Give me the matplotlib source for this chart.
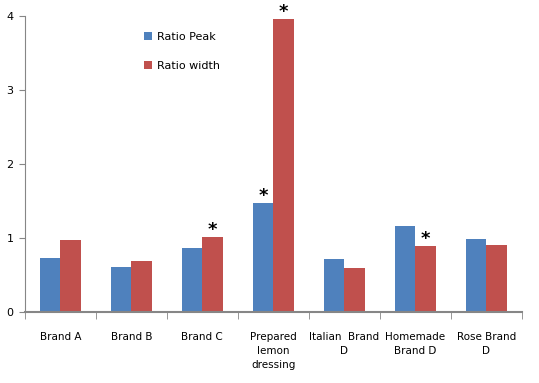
import numpy as np
import matplotlib.pyplot as plt

categories = ["Brand A", "Brand B", "Brand C", "Prepared\nlemon\ndressing",
              "Italian  Brand\nD", "Homemade\nBrand D", "Rose Brand\nD"]
ratio_peak = [0.73, 0.61, 0.86, 1.47, 0.72, 1.16, 0.99]
ratio_width = [0.97, 0.69, 1.01, 3.96, 0.59, 0.89, 0.91]
star_peak = [False, False, False, True, False, False, False]
star_width = [False, False, True, True, False, True, False]

fig = plt.figure(figsize=(5.39, 3.83), dpi=100)
ax = fig.add_axes([0.046, 0.185, 0.922, 0.773])

x = np.arange(len(categories))
w = 0.29
ax.bar(x - w / 2, ratio_peak, w, color="#4F81BD", label="Ratio Peak")
ax.bar(x + w / 2, ratio_width, w, color="#C0504D", label="Ratio width")

# asterisks mark significant differences
for xi, v, s in zip(x - w / 2, ratio_peak, star_peak):
    if s:
        ax.text(xi, v + 0.1, "*", ha="center", va="center", fontsize=13, fontweight="bold")
for xi, v, s in zip(x + w / 2, ratio_width, star_width):
    if s:
        ax.text(xi, v + 0.1, "*", ha="center", va="center", fontsize=13, fontweight="bold")

ax.set_xlim(-0.5, len(categories) - 0.5)
ax.set_ylim(0, 4)
ax.set_yticks([0, 1, 2, 3, 4])
ax.set_xticks(x)
ax.set_xticklabels(categories, fontsize=7.5, linespacing=1.5)
ax.set_xticks(np.arange(len(categories) + 1) - 0.5, minor=True)
ax.tick_params(axis="x", which="major", length=0, pad=14)
ax.tick_params(axis="x", which="minor", length=5, color="#868686")
ax.tick_params(axis="y", length=4, color="#868686", labelsize=8, pad=4)

for sp in ["top", "right"]:
    ax.spines[sp].set_visible(False)
for sp in ["left", "bottom"]:
    ax.spines[sp].set_color("#868686")
ax.spines["bottom"].set_linewidth(1.5)

ax.legend(loc="upper left", bbox_to_anchor=(0.22, 0.98), frameon=False, fontsize=8,
          handlelength=0.7, handleheight=0.7, labelspacing=1.7, handletextpad=0.5)

fig.savefig("out.png", dpi=100)
